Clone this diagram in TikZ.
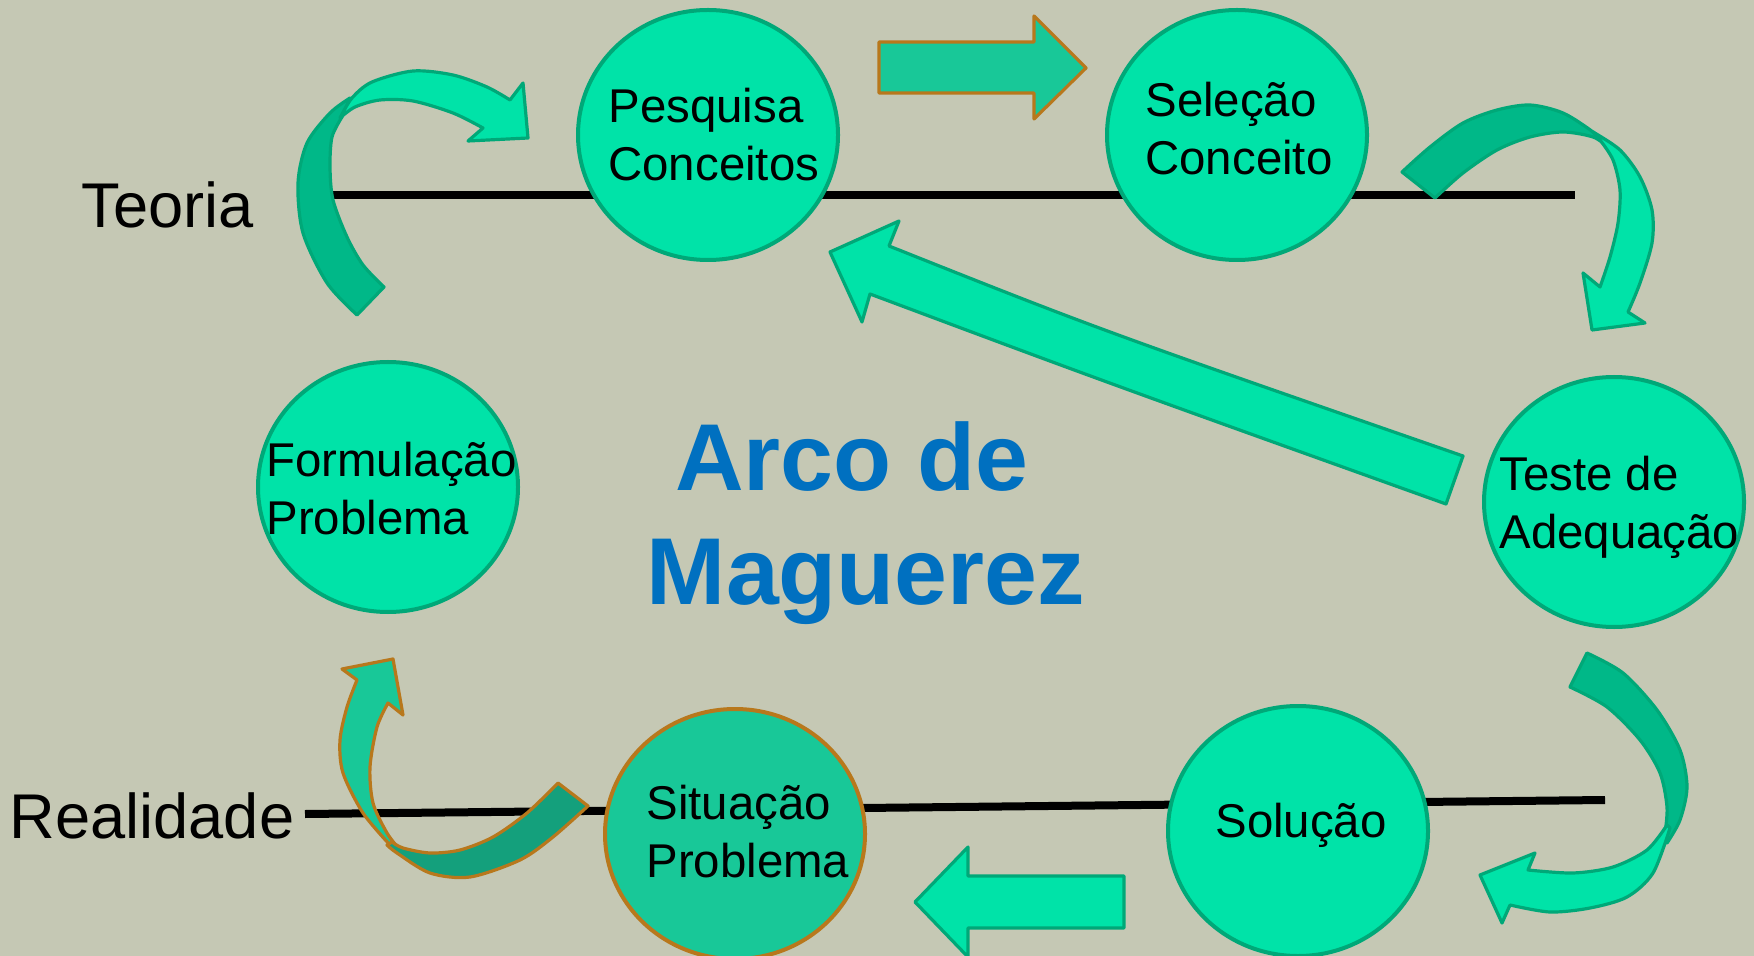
\documentclass[tikz,border=0pt]{standalone}
\usepackage{fontspec}
\setmainfont{Liberation Sans}
\usetikzlibrary{shapes.geometric}
\definecolor{bg}{HTML}{C5C8B4}
\definecolor{mint}{HTML}{00E3A8}
\definecolor{mintline}{HTML}{00A878}
\definecolor{mintdark}{HTML}{00B888}
\definecolor{sea}{HTML}{18C898}
\definecolor{seadark}{HTML}{14A07C}
\definecolor{ochre}{HTML}{B8781C}
\definecolor{titleblue}{HTML}{0070C0}
\begin{document}
\begin{tikzpicture}[x=0.5pt,y=-0.5pt,
  bubble/.style={ellipse,draw=mintline,fill=mint,line width=2pt,minimum width=130pt,minimum height=125pt,inner sep=0pt},
  bubbleo/.style={bubble,draw=ochre,fill=sea},
  txt/.style={anchor=west,align=left,inner sep=0pt,font=\fontsize{23.7}{29}\selectfont},
  side/.style={inner sep=0pt,font=\fontsize{31.6}{36}\selectfont},
  axis/.style={line width=4pt,black},
  lightarr/.style={fill=mint,draw=mintline,line width=1.6pt,line join=round},
  darkarr/.style={fill=mintdark,draw=mintline,line width=1.6pt,line join=round},
  olight/.style={fill=sea,draw=ochre,line width=1.6pt,line join=round},
  odark/.style={fill=seadark,draw=ochre,line width=1.6pt,line join=round}]
\fill[bg] (0,0) rectangle (1754,956);
\useasboundingbox (0,0) rectangle (1754,956);
\clip (0,0) rectangle (1754,956);
% axes
\coordinate (t1) at (333,195);
\coordinate (t2) at (1575,195);
\coordinate (r1) at (305,814);
\coordinate (r2) at (1605,800);
\draw[axis] (t1) -- (t2);
\draw[axis] (r1) -- (r2);
\node[side] (teoria) at (168,205) {Teoria};
\node[side] (realidade) at (152,816) {Realidade};
% straight arrows
\filldraw[olight] (879,42) -- (1034,42) -- (1034,16) -- (1086,68) -- (1034,119) -- (1034,93) -- (879,93) -- cycle;
\filldraw[lightarr] (1124,876) -- (968,876) -- (968,847) -- (915,902) -- (968,957) -- (968,928) -- (1124,928) -- cycle;
\filldraw[lightarr] (830,252) -- (899,221) -- (889,246) .. controls (1100,330) .. (1463,456) -- (1446,504) .. controls (1100,380) .. (870,294) -- (862,322) -- cycle;
% curved arrow A (Formulacao -> Pesquisa)
\filldraw[darkarr] plot[smooth] coordinates {(357,315) (327,283) (303,233) (298,183) (307,143) (330,113) (350,98)} -- plot[smooth] coordinates {(342,117) (332,137) (330,167) (333,200) (347,237) (363,265) (384,287)} -- cycle;
\filldraw[lightarr] plot[smooth] coordinates {(340,118) (352,98) (372,82) (413,71) (453,75) (487,87) (510,100)} -- (523,83) -- (528,138) -- (468,141) -- (483,128) -- plot[smooth] coordinates {(483,128) (453,113) (413,101) (380,100) (355,107) (340,118)} -- cycle;
% curved arrow B (Selecao -> Teste)
\filldraw[darkarr] plot[smooth] coordinates {(1402,172) (1430,147) (1463,123) (1497,110) (1530,105) (1563,113) (1593,132) (1613,150)} -- plot[smooth] coordinates {(1608,147) (1593,137) (1563,132) (1530,137) (1497,150) (1463,173) (1435,198)} -- cycle;
\filldraw[lightarr] plot[smooth] coordinates {(1593,132) (1620,150) (1640,177) (1652,210) (1652,243) (1640,283) (1628,312)} -- (1645,323) -- (1592,330) -- (1583,273) -- (1600,287) -- plot[smooth] coordinates {(1600,287) (1610,257) (1618,223) (1620,190) (1613,160) (1600,140)} -- cycle;
% curved arrow C (Teste -> Solucao)
\filldraw[darkarr] plot[smooth] coordinates {(1587,653) (1623,673) (1657,710) (1680,750) (1687,787) (1680,820) (1667,843)} -- plot[smooth] coordinates {(1665,833) (1667,807) (1660,773) (1640,740) (1607,707) (1570,687)} -- cycle;
\filldraw[lightarr] plot[smooth] coordinates {(1670,828) (1653,873) (1627,897) (1590,908) (1550,912) (1510,905)} -- (1502,923) -- (1480,875) -- (1535,853) -- (1528,870) -- plot[smooth] coordinates {(1528,870) (1573,873) (1613,867) (1647,850) (1667,825)} -- cycle;
% curved arrow D (Situacao -> Formulacao)
\filldraw[olight] plot[smooth] coordinates {(390,845) (363,813) (343,773) (340,740) (347,707) (357,680)} -- (342,669) -- (393,659) -- (403,715) -- (388,703) -- plot[smooth] coordinates {(388,703) (377,727) (370,767) (373,803) (387,833) (400,850)} -- cycle;
\filldraw[odark] plot[smooth] coordinates {(588,806) (553,837) (520,860) (470,877) (430,873) (397,853) (387,845)} -- plot[smooth] coordinates {(392,842) (403,848) (430,853) (460,850) (493,837) (527,813) (558,783)} -- cycle;
% circles
\node[bubble] (pc) at (708,135) {};
\node[bubble] (sc) at (1237,135) {};
\node[bubble] (td) at (1614,502) {};
\node[bubble] (so) at (1298,831) {};
\node[bubbleo] (sp) at (735,834) {};
\node[bubble] (fp) at (388,487) {};
\node[txt] (pct) at (608,135) {Pesquisa\\Conceitos};
\node[txt] (sct) at (1145,129) {Seleção\\Conceito};
\node[txt] (tdt) at (1499,507) {Teste de\\Adequação};
\node[txt] (fpt) at (266,489) {Formulação\\Problema};
\node[txt] (spt) at (646,832) {Situação\\Problema};
\node[txt] (sot) at (1215,825) {Solução};
% title
\node[align=center,inner sep=0pt,text=titleblue,font=\bfseries\fontsize{47.5}{57}\selectfont] (title) at (866,523) {Arco de\hspace*{14pt}\\Maguerez};
\end{tikzpicture}
\end{document}
